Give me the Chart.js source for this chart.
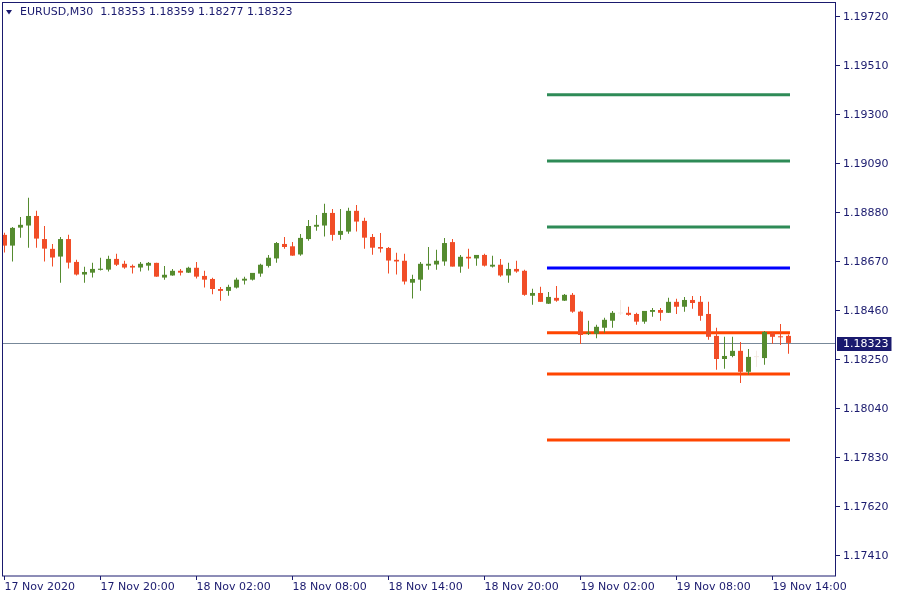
<!DOCTYPE html>
<html>
<head>
<meta charset="utf-8">
<script src="https://cdn.jsdelivr.net/npm/chart.js@4.4.0/dist/chart.umd.min.js"></script>
<style>
  html, body { margin: 0; padding: 0; background: #ffffff; }
  canvas { display: block; }
</style>
</head>
<body>
<canvas id="grafica" width="900" height="600"></canvas>
<script>
// EURUSD M30, una vela cada 30 minutos desde 17 Nov 14:00
const simbolo = "EURUSD,M30";
const etiquetasTiempo = ["17 Nov 2020", "17 Nov 20:00", "18 Nov 02:00", "18 Nov 08:00", "18 Nov 14:00",
  "18 Nov 20:00", "19 Nov 02:00", "19 Nov 08:00", "19 Nov 14:00"];
const velasPorEtiqueta = 12;

const aperturas = [
  1.18786, 1.18740, 1.18817, 1.18826, 1.18867, 1.18768, 1.18726, 1.18693, 1.18768, 1.18670,
  1.18616, 1.18624, 1.18636, 1.18637, 1.18683, 1.18662, 1.18653, 1.18646, 1.18654, 1.18666,
  1.18603, 1.18612, 1.18632, 1.18624, 1.18645, 1.18610, 1.18597, 1.18554, 1.18546, 1.18560,
  1.18590, 1.18594, 1.18620, 1.18653, 1.18685, 1.18747, 1.18737, 1.18702, 1.18768, 1.18821,
  1.18826, 1.18880, 1.18786, 1.18800, 1.18889, 1.18846, 1.18777, 1.18734, 1.18730, 1.18679,
  1.18675, 1.18581, 1.18594, 1.18654, 1.18659, 1.18672, 1.18755, 1.18650, 1.18692, 1.18685,
  1.18700, 1.18650, 1.18658, 1.18612, 1.18640, 1.18632, 1.18525, 1.18537, 1.18491, 1.18516,
  1.18504, 1.18529, 1.18457, 1.18362, 1.18362, 1.18388, 1.18418, 1.18449, 1.18452, 1.18447,
  1.18414, 1.18456, 1.18464, 1.18452, 1.18499, 1.18478, 1.18507, 1.18499, 1.18447, 1.18353,
  1.18254, 1.18267, 1.18289, 1.18199, 1.18262, 1.18258, 1.18366, 1.18348, 1.18353
];
const maximos = [
  1.18795, 1.18820, 1.18863, 1.18945, 1.18889, 1.18824, 1.18747, 1.18777, 1.18786, 1.18679,
  1.18649, 1.18666, 1.18688, 1.18696, 1.18705, 1.18675, 1.18659, 1.18670, 1.18670, 1.18667,
  1.18653, 1.18640, 1.18640, 1.18649, 1.18670, 1.18632, 1.18602, 1.18563, 1.18572, 1.18602,
  1.18606, 1.18623, 1.18662, 1.18700, 1.18755, 1.18777, 1.18755, 1.18790, 1.18850, 1.18871,
  1.18919, 1.18897, 1.18897, 1.18902, 1.18914, 1.18859, 1.18790, 1.18794, 1.18734, 1.18709,
  1.18705, 1.18615, 1.18670, 1.18734, 1.18722, 1.18773, 1.18768, 1.18700, 1.18726, 1.18700,
  1.18705, 1.18696, 1.18683, 1.18666, 1.18675, 1.18636, 1.18555, 1.18564, 1.18541, 1.18567,
  1.18533, 1.18537, 1.18461, 1.18418, 1.18401, 1.18431, 1.18460, 1.18507, 1.18478, 1.18452,
  1.18460, 1.18473, 1.18473, 1.18516, 1.18512, 1.18520, 1.18524, 1.18524, 1.18499, 1.18388,
  1.18349, 1.18349, 1.18327, 1.18297, 1.18289, 1.18374, 1.18370, 1.18404, 1.18359
];
const minimos = [
  1.18710, 1.18672, 1.18774, 1.18731, 1.18731, 1.18672, 1.18650, 1.18581, 1.18642, 1.18612,
  1.18581, 1.18603, 1.18633, 1.18629, 1.18653, 1.18641, 1.18620, 1.18629, 1.18633, 1.18606,
  1.18594, 1.18611, 1.18612, 1.18623, 1.18599, 1.18560, 1.18532, 1.18504, 1.18525, 1.18556,
  1.18573, 1.18590, 1.18607, 1.18646, 1.18667, 1.18727, 1.18697, 1.18697, 1.18761, 1.18804,
  1.18779, 1.18761, 1.18765, 1.18791, 1.18800, 1.18727, 1.18701, 1.18710, 1.18620, 1.18616,
  1.18573, 1.18513, 1.18546, 1.18637, 1.18637, 1.18654, 1.18650, 1.18624, 1.18641, 1.18654,
  1.18650, 1.18646, 1.18607, 1.18581, 1.18624, 1.18525, 1.18486, 1.18499, 1.18490, 1.18499,
  1.18503, 1.18452, 1.18318, 1.18357, 1.18343, 1.18367, 1.18388, 1.18443, 1.18439, 1.18401,
  1.18405, 1.18435, 1.18418, 1.18451, 1.18447, 1.18456, 1.18469, 1.18418, 1.18337, 1.18208,
  1.18212, 1.18262, 1.18151, 1.18186, 1.18220, 1.18229, 1.18319, 1.18314, 1.18277
];
const cierres = [
  1.18740, 1.18816, 1.18829, 1.18867, 1.18770, 1.18727, 1.18689, 1.18768, 1.18667, 1.18616,
  1.18627, 1.18640, 1.18641, 1.18683, 1.18658, 1.18646, 1.18646, 1.18662, 1.18666, 1.18607,
  1.18615, 1.18632, 1.18624, 1.18645, 1.18607, 1.18594, 1.18554, 1.18546, 1.18563, 1.18594,
  1.18598, 1.18623, 1.18658, 1.18688, 1.18751, 1.18734, 1.18697, 1.18773, 1.18824, 1.18829,
  1.18880, 1.18786, 1.18803, 1.18889, 1.18843, 1.18774, 1.18731, 1.18727, 1.18676, 1.18672,
  1.18586, 1.18597, 1.18662, 1.18662, 1.18675, 1.18751, 1.18650, 1.18692, 1.18685, 1.18700,
  1.18654, 1.18658, 1.18612, 1.18640, 1.18629, 1.18529, 1.18537, 1.18499, 1.18520, 1.18504,
  1.18529, 1.18457, 1.18357, 1.18367, 1.18392, 1.18422, 1.18452, 1.18449, 1.18443, 1.18414,
  1.18460, 1.18464, 1.18452, 1.18499, 1.18478, 1.18507, 1.18494, 1.18439, 1.18349, 1.18254,
  1.18267, 1.18289, 1.18199, 1.18263, 1.18262, 1.18370, 1.18349, 1.18347, 1.18323
];

// niveles horizontales (resistencias, pivote, soportes)
const niveles = [1.19386, 1.19103, 1.18820, 1.18644, 1.18366, 1.18190, 1.17907];
const inicioNiveles = 68;
const finNiveles = 98;

const marcasY = [1.17410, 1.17620, 1.17830, 1.18040, 1.18250, 1.18460, 1.18670, 1.18880, 1.19090, 1.19300, 1.19510, 1.19720];

const azulOscuro = "#1a1a6e";
const coloresNiveles = ["#2e8b57", "#2e8b57", "#2e8b57", "#0000ff", "#ff4500", "#ff4500", "#ff4500"];

const colorVela = (i) => {
  if (cierres[i] > aperturas[i]) return "#558b2f";
  if (cierres[i] < aperturas[i]) return "#f14d27";
  return "#f3e9e2";
};

const indices = aperturas.map((_, i) => i);

const mechas = {
  type: "bar",
  data: indices.map((i) => ({ x: i, y: [minimos[i], maximos[i]] })),
  backgroundColor: indices.map(colorVela),
  grouped: false,
  categoryPercentage: 1,
  barPercentage: 0.125,
  maxBarThickness: 1,
  order: 2,
};

const cuerpos = {
  type: "bar",
  data: indices.map((i) => ({ x: i, y: [Math.min(aperturas[i], cierres[i]), Math.max(aperturas[i], cierres[i])] })),
  backgroundColor: indices.map(colorVela),
  grouped: false,
  categoryPercentage: 1,
  barPercentage: 0.625,
  maxBarThickness: 5,
  minBarLength: 1,
  order: 1,
};

const lineasNiveles = niveles.map((v, k) => ({
  type: "line",
  data: [{ x: inicioNiveles, y: v }, { x: finNiveles, y: v }],
  borderColor: coloresNiveles[k],
  borderWidth: 3,
  borderCapStyle: "square",
  pointRadius: 0,
  fill: false,
  order: 3,
}));

const ultimo = (serie) => serie[serie.length - 1];

// sin relleno extra de las etiquetas, el area del grafico va de borde a borde
const sinRelleno = (scale) => {
  scale.paddingTop = 0;
  scale.paddingBottom = 0;
  scale.paddingLeft = 0;
  scale.paddingRight = 0;
};

const marco = {
  id: "marco",
  beforeDatasetsDraw(chart) {
    const { ctx, chartArea: a, scales } = chart;
    const py = Math.round(scales.y.getPixelForValue(ultimo(cierres))) + 0.5;
    ctx.save();
    ctx.strokeStyle = "#778899";
    ctx.lineWidth = 1;
    ctx.beginPath();
    ctx.moveTo(a.left, py);
    ctx.lineTo(a.right, py);
    ctx.stroke();
    ctx.restore();
  },
  afterDraw(chart) {
    const { ctx, chartArea: a, scales } = chart;
    ctx.save();
    // borde del grafico
    ctx.strokeStyle = azulOscuro;
    ctx.lineWidth = 1;
    ctx.strokeRect(a.left + 0.5, a.top + 0.5, a.right - a.left - 1, a.bottom - a.top - 0.5);

    // titulo con OHLC de la ultima vela
    ctx.fillStyle = azulOscuro;
    ctx.beginPath();
    ctx.moveTo(6, 10);
    ctx.lineTo(12, 10);
    ctx.lineTo(9, 14.5);
    ctx.closePath();
    ctx.fill();
    const texto = simbolo + "  " + [aperturas, maximos, minimos, cierres].map((s) => ultimo(s).toFixed(5)).join(" ");
    ctx.font = '11px "DejaVu Sans"';
    ctx.textBaseline = "middle";
    ctx.textAlign = "left";
    ctx.fillText(texto, 20, 12.5);

    // etiqueta del precio actual
    const valor = ultimo(cierres).toFixed(5);
    const py = Math.round(scales.y.getPixelForValue(ultimo(cierres)));
    const w = ctx.measureText(valor).width;
    ctx.fillStyle = azulOscuro;
    ctx.fillRect(a.right + 1, py - 6, w + 9, 14);
    ctx.fillStyle = "#ffffff";
    ctx.fillText(valor, a.right + 7, py + 1);
    ctx.restore();
  },
};

Chart.defaults.font.family = '"DejaVu Sans"';
Chart.defaults.font.size = 11;
Chart.defaults.color = azulOscuro;

new Chart("grafica", {
  type: "bar",
  data: { datasets: [cuerpos, mechas, ...lineasNiveles] },
  options: {
    responsive: false,
    animation: false,
    devicePixelRatio: 1,
    layout: { padding: { left: 2, top: 2, right: 0, bottom: 0 } },
    plugins: { legend: { display: false }, tooltip: { enabled: false } },
    scales: {
      x: {
        type: "linear",
        offset: false,
        min: -0.3125,
        max: 103.9375,
        grid: { display: true, drawOnChartArea: false, drawTicks: true, tickLength: 4, color: azulOscuro, offset: false },
        border: { display: false },
        afterBuildTicks: (scale) => {
          scale.ticks = etiquetasTiempo.map((_, k) => ({ value: k * velasPorEtiqueta }));
        },
        afterFit: (scale) => {
          scale.height = 24;
          sinRelleno(scale);
        },
        ticks: {
          autoSkip: false,
          maxRotation: 0,
          align: "start",
          padding: 1,
          color: azulOscuro,
          callback: (value) => etiquetasTiempo[Math.round(value / velasPorEtiqueta)],
        },
      },
      y: {
        type: "linear",
        position: "right",
        beginAtZero: false,
        min: 1.17324,
        max: 1.19784,
        grid: { display: true, drawOnChartArea: false, drawTicks: true, tickLength: 4, color: azulOscuro },
        border: { display: false },
        afterBuildTicks: (scale) => {
          scale.ticks = marcasY.map((v) => ({ value: v }));
        },
        afterFit: (scale) => {
          scale.width = 64;
          sinRelleno(scale);
        },
        ticks: {
          autoSkip: false,
          padding: 3,
          color: azulOscuro,
          callback: (value) => value.toFixed(5),
        },
      },
    },
  },
  plugins: [marco],
});
</script>
</body>
</html>
